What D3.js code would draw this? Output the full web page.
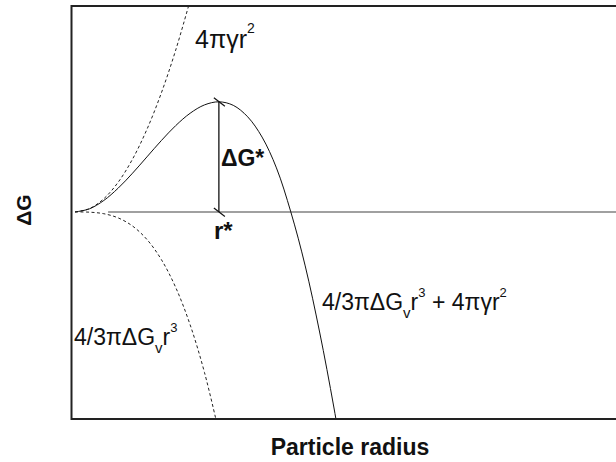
<!DOCTYPE html>
<html>
<head>
<meta charset="utf-8">
<script src="https://cdn.jsdelivr.net/npm/d3@7"></script>
<style>
  html, body { margin: 0; padding: 0; background: #fff; }
  svg { display: block; font-family: "Liberation Sans", Arial, Helvetica, sans-serif; }
</style>
</head>
<body>
<svg id="chart" width="616" height="462"></svg>
<script>
// Free energy of a spherical nucleus vs. particle radius (units: r* = 1, ΔG* = 1)
const surfaceR = [0, 0.1, 0.2, 0.3, 0.4, 0.5, 0.6, 0.7, 0.8];
const surfaceG = [0, 0.03, 0.12, 0.27, 0.48, 0.75, 1.08, 1.47, 1.92];

const volumeR = [0, 0.1, 0.2, 0.3, 0.4, 0.5, 0.6, 0.7, 0.8, 0.9, 1.0];
const volumeG = [0, -0.002, -0.016, -0.054, -0.128, -0.25, -0.432, -0.686, -1.024, -1.458, -2.0];

const totalR = [0, 0.1, 0.2, 0.3, 0.4, 0.5, 0.6, 0.7, 0.8, 0.9, 1.0, 1.1, 1.2, 1.3, 1.4, 1.5, 1.6, 1.7, 1.8, 1.9];
const totalG = [0, 0.028, 0.104, 0.216, 0.352, 0.5, 0.648, 0.784, 0.896, 0.972, 1.0, 0.968, 0.864, 0.68, 0.40, 0, -0.49, -1.09, -1.78, -2.55];

const criticalR = 1.0;   // r*
const barrierG = 1.0;    // ΔG*
const baselineStartR = 0.23;

const xDomain = [0, 3.76];
const yDomain = [-1.88, 1.87];

const svg = d3.select("#chart");

const frame = { left: 71.5, top: 6, right: 616, bottom: 419 };
const x = d3.scaleLinear().domain(xDomain).range([75, 616]);
const y = d3.scaleLinear().domain(yDomain).range([frame.bottom, frame.top]);

svg.append("clipPath").attr("id", "plot-clip")
  .append("rect")
  .attr("x", frame.left).attr("y", frame.top)
  .attr("width", frame.right - frame.left).attr("height", frame.bottom - frame.top);

const plot = svg.append("g").attr("clip-path", "url(#plot-clip)");

const line = d3.line()
  .x(d => x(d[0]))
  .y(d => y(d[1]))
  .curve(d3.curveCatmullRom.alpha(0.5));

// ΔG = 0 reference line
plot.append("line")
  .attr("x1", x(baselineStartR)).attr("x2", x(xDomain[1]))
  .attr("y1", y(0)).attr("y2", y(0))
  .attr("stroke", "#808080").attr("stroke-width", 1.5);

// Surface and volume contributions (dashed)
plot.append("path")
  .datum(d3.zip(surfaceR, surfaceG))
  .attr("d", line)
  .attr("fill", "none").attr("stroke", "#222").attr("stroke-width", 1)
  .attr("stroke-dasharray", "3,2.5");

plot.append("path")
  .datum(d3.zip(volumeR, volumeG))
  .attr("d", line)
  .attr("fill", "none").attr("stroke", "#222").attr("stroke-width", 1)
  .attr("stroke-dasharray", "3,2.5");

// Total free energy
plot.append("path")
  .datum(d3.zip(totalR, totalG))
  .attr("d", line)
  .attr("fill", "none").attr("stroke", "#111").attr("stroke-width", 1);

// Barrier height marker
plot.append("line")
  .attr("x1", x(criticalR)).attr("x2", x(criticalR))
  .attr("y1", y(barrierG)).attr("y2", y(0))
  .attr("stroke", "#111").attr("stroke-width", 1.3);

[barrierG, 0].forEach(g => {
  plot.append("line")
    .attr("x1", x(criticalR) - 5).attr("y1", y(g) - 4)
    .attr("x2", x(criticalR) + 6).attr("y2", y(g) + 4.5)
    .attr("stroke", "#111").attr("stroke-width", 1.2);
});

// Frame (open on the right)
svg.append("path")
  .attr("d", `M${frame.right},${frame.top}H${frame.left}V${frame.bottom}H${frame.right}`)
  .attr("fill", "none").attr("stroke", "#222").attr("stroke-width", 2);

// Annotations
const txt = (xp, yp, size, weight) => svg.append("text")
  .attr("x", xp).attr("y", yp)
  .attr("font-size", size).attr("font-weight", weight || "normal")
  .attr("fill", "#111");

const t1 = txt(195, 48, 25);
t1.append("tspan").text("4πγr");
t1.append("tspan").attr("font-size", 14).attr("dy", -15).text("2");

txt(x(criticalR) + 2, 166, 23, "bold").text("ΔG*");
txt(x(criticalR) - 5, 239, 24, "bold").text("r*");

function volumeLabel(t) {
  t.append("tspan").text("4/3πΔG");
  t.append("tspan").attr("font-size", 15).attr("dy", 8).text("v");
  t.append("tspan").attr("dy", -8).text("r");
  t.append("tspan").attr("font-size", 13).attr("dy", -13).text("3");
}

const t2 = txt(74, 345, 23);
volumeLabel(t2);

const t3 = txt(322, 310, 23);
volumeLabel(t3);
t3.append("tspan").attr("dy", 13).text(" + 4πγr");
t3.append("tspan").attr("font-size", 13).attr("dy", -13).text("2");

// Axis titles
svg.append("text")
  .attr("transform", "translate(31,210) rotate(-90)")
  .attr("text-anchor", "middle")
  .attr("font-size", 21).attr("font-weight", "bold").attr("fill", "#111")
  .text("ΔG");

svg.append("text")
  .attr("x", 350).attr("y", 455)
  .attr("text-anchor", "middle")
  .attr("font-size", 23).attr("font-weight", "bold").attr("fill", "#111")
  .text("Particle radius");
</script>
</body>
</html>
